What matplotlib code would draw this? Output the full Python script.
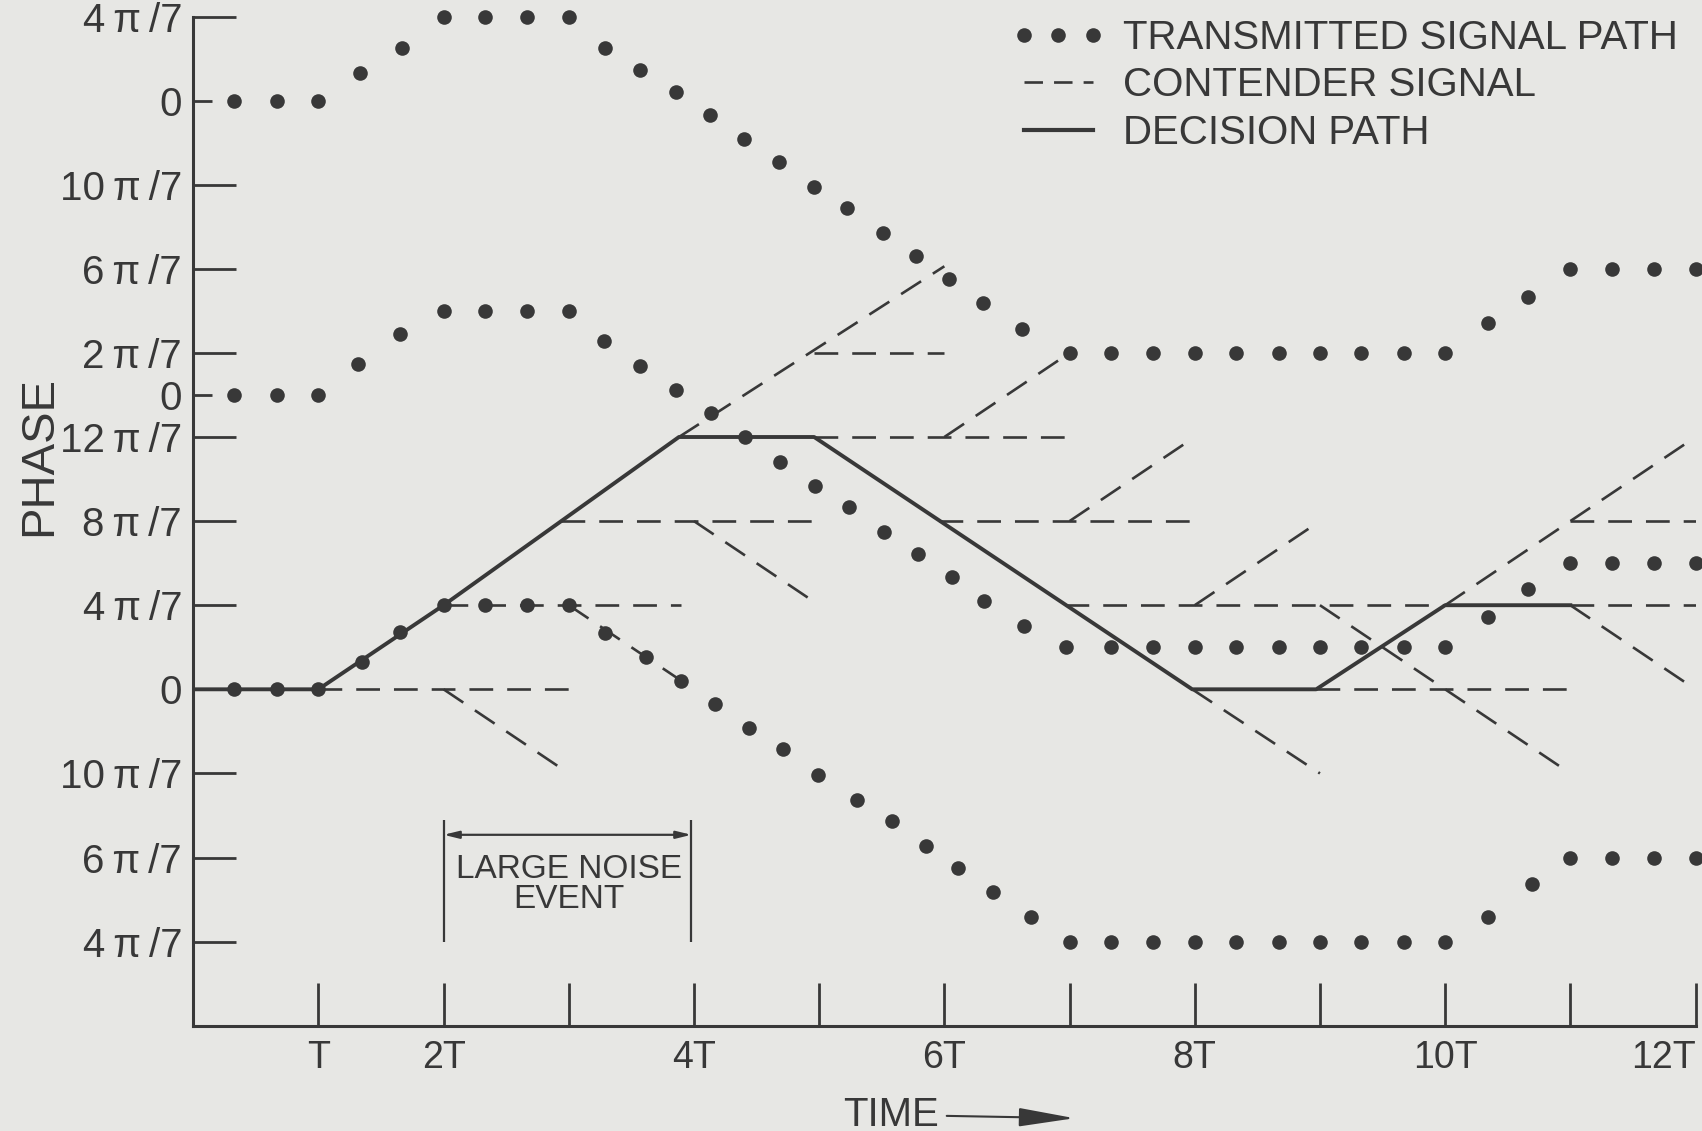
import matplotlib
matplotlib.use('Agg')
import matplotlib.pyplot as plt
from matplotlib.lines import Line2D

# time in units of T, phase in tick steps (one step = 2pi/7)
sig_a_t = [0.33, 0.67, 1.0, 1.33, 1.67, 2.0, 2.33, 2.67, 3.0,
           3.29, 3.57, 3.86, 4.13, 4.40, 4.68, 4.96, 5.22, 5.51, 5.77, 6.04, 6.31, 6.62,
           7.0, 7.33, 7.67, 8.0, 8.33, 8.67, 9.0, 9.33, 9.67, 10.0,
           10.34, 10.66, 11.0, 11.33, 11.67, 12.0]
sig_a_v = [7, 7, 7, 7.33, 7.63, 8, 8, 8, 8,
           7.63, 7.36, 7.10, 6.83, 6.54, 6.27, 5.97, 5.72, 5.42, 5.15, 4.88, 4.59, 4.28,
           4, 4, 4, 4, 4, 4, 4, 4, 4, 4,
           4.36, 4.67, 5, 5, 5, 5]

sig_b_t = [0.33, 0.67, 1.0, 1.32, 1.65, 2.0, 2.33, 2.67, 3.0,
           3.28, 3.57, 3.86, 4.14, 4.41, 4.69, 4.97, 5.24, 5.52, 5.79, 6.06, 6.32, 6.64,
           6.97, 7.33, 7.67, 8.0, 8.33, 8.67, 9.0, 9.33, 9.67, 10.0,
           10.34, 10.66, 11.0, 11.33, 11.67, 12.0]
sig_b_v = [3.5, 3.5, 3.5, 3.87, 4.22, 4.5, 4.5, 4.5, 4.5,
           4.14, 3.85, 3.56, 3.28, 3.0, 2.70, 2.42, 2.17, 1.87, 1.61, 1.33, 1.05, 0.75,
           0.5, 0.5, 0.5, 0.5, 0.5, 0.5, 0.5, 0.5, 0.5, 0.5,
           0.86, 1.19, 1.5, 1.5, 1.5, 1.5]

sig_c_t = [0.33, 0.67, 1.0, 1.35, 1.65, 2.0, 2.33, 2.67, 3.0,
           3.29, 3.62, 3.90, 4.17, 4.44, 4.71, 4.99, 5.30, 5.58, 5.85, 6.11, 6.39, 6.69,
           7.0, 7.33, 7.67, 8.0, 8.33, 8.67, 9.0, 9.33, 9.67, 10.0,
           10.34, 10.69, 11.0, 11.33, 11.67, 12.0]
sig_c_v = [0, 0, 0, 0.32, 0.68, 1, 1, 1, 1,
           0.67, 0.39, 0.10, -0.17, -0.46, -0.71, -1.02, -1.32, -1.57, -1.86, -2.13, -2.41, -2.71,
           -3, -3, -3, -3, -3, -3, -3, -3, -3, -3,
           -2.71, -2.32, -2, -2, -2, -2]

decision_t = [0, 1, 2, 3.88, 4.96, 7.98, 8.97, 10.0, 11.0]
decision_v = [0, 0, 1, 3, 3, 0, 0, 1, 1]

# contender segments: start (t, v) -> end (t, v)
cont_t0 = [1, 2, 2, 3, 2.94, 4, 3.88, 4.96, 4.96, 6, 5.96, 7, 6.96, 8, 7.98, 9, 8.97, 10, 11, 11, 11]
cont_v0 = [0, 0, 1, 1, 2, 2, 3, 4, 3, 3, 2, 2, 1, 1, 0, 1, 0, 1, 2, 1, 1]
cont_t1 = [3, 3, 3.9, 3.9, 5, 5, 6, 6, 7, 7, 8, 8, 10, 9, 9, 11, 11, 12, 12, 12, 12]
cont_v1 = [0, -1, 1, 0.1, 2, 1, 5.03, 4, 3, 4, 2, 3, 1, 2, -1, -1, 0, 3, 2, 1, 0]

ts = '\u2009'
ytick_pos = [8, 6, 5, 4, 3, 2, 1, 0, -1, -2, -3]
ytick_lab = ['4π/7', '10π/7', '6π/7', '2π/7', '12π/7', '8π/7', '4π/7', '0',
             '10π/7', '6π/7', '4π/7']
ytick_lab = [s.replace('π', ts + 'π' + ts) for s in ytick_lab]
ytick_minor_pos = [7, 3.5]
ytick_minor_lab = ['0', '0']
xtick_pos = list(range(1, 13))
xtick_lab = ['T', '2T', '', '4T', '', '6T', '', '8T', '', '10T', '', '12T']

ink = '#383838'
paper = '#e7e7e4'

plt.rcParams['font.family'] = ['Liberation Sans', 'DejaVu Sans']

fig = plt.figure(figsize=(17.02, 11.31), dpi=100, facecolor=paper)
ax = fig.add_axes([0.1135, 0.0931, 0.8827, 0.8923])
ax.set_facecolor('none')
ax.set_xlim(0, 12)
ax.set_ylim(-4, 8)
for s in ['top', 'right']:
    ax.spines[s].set_visible(False)
for s in ['left', 'bottom']:
    ax.spines[s].set_linewidth(2.2)
    ax.spines[s].set_color(ink)

dash = (0, (9, 5.3))
for t0, v0, t1, v1 in zip(cont_t0, cont_v0, cont_t1, cont_v1):
    ax.plot([t0, t1], [v0, v1], color=ink, lw=1.9, linestyle=dash)

ax.plot(decision_t, decision_v, color=ink, lw=2.8)

for tt, vv in [(sig_a_t, sig_a_v), (sig_b_t, sig_b_v), (sig_c_t, sig_c_v)]:
    ax.plot(tt, vv, 'o', color=ink, ms=10.5, mew=0, clip_on=False, zorder=5)

ax.set_yticks(ytick_pos, ytick_lab)
ax.set_yticks(ytick_minor_pos, ytick_minor_lab, minor=True)
ax.set_xticks(xtick_pos, xtick_lab)
ax.get_xticklabels()[-1].set_horizontalalignment('right')
ax.tick_params(axis='both', which='both', direction='in', width=2, color=ink,
               labelcolor=ink, labelsize=29)
ax.tick_params(axis='y', which='major', length=31, pad=8)
ax.tick_params(axis='y', which='minor', length=14, pad=8)
ax.tick_params(axis='x', which='major', length=31, pad=10, labelsize=27)

fig.text(0.023, 0.597, 'PHASE', rotation=90, ha='center', va='center',
         fontsize=34, color=ink)

# TIME label with arrow
ax.annotate('TIME', xy=(7.04, -5.1), xytext=(5.57, -5.06), ha='center',
            va='center', fontsize=29, color=ink, annotation_clip=False,
            arrowprops=dict(arrowstyle='-|>,head_length=1.2,head_width=0.2',
                            color=ink, lw=1.5, shrinkA=4, shrinkB=0))

# large noise event marker
ax.vlines([2, 3.98], -3.0, -1.55, color=ink, lw=1.6)
ax.annotate('', xy=(3.98, -1.73), xytext=(2, -1.73),
            arrowprops=dict(arrowstyle='<|-|>,head_length=0.9,head_width=0.22',
                            color=ink, lw=1.6, shrinkA=0, shrinkB=0))
ax.text(3.0, -2.14, 'LARGE NOISE', ha='center', va='center', fontsize=24, color=ink)
ax.text(3.0, -2.5, 'EVENT', ha='center', va='center', fontsize=24, color=ink)

handles = [Line2D([], [], ls='none', marker='o', ms=10.5, mew=0, color=ink),
           Line2D([], [], color=ink, lw=1.9, linestyle=(0, (7, 4.2))),
           Line2D([], [], color=ink, lw=3)]
labels = ['TRANSMITTED SIGNAL PATH', 'CONTENDER SIGNAL', 'DECISION PATH']
ax.legend(handles, labels, loc='upper left', bbox_to_anchor=(0.5944, 0.983),
          bbox_transform=fig.transFigure, frameon=False, numpoints=3,
          handlelength=2.32, handletextpad=0.45, labelspacing=0.23,
          borderpad=0, borderaxespad=0, fontsize=29, labelcolor=ink)

fig.savefig('out.png', dpi=100, facecolor=paper)
